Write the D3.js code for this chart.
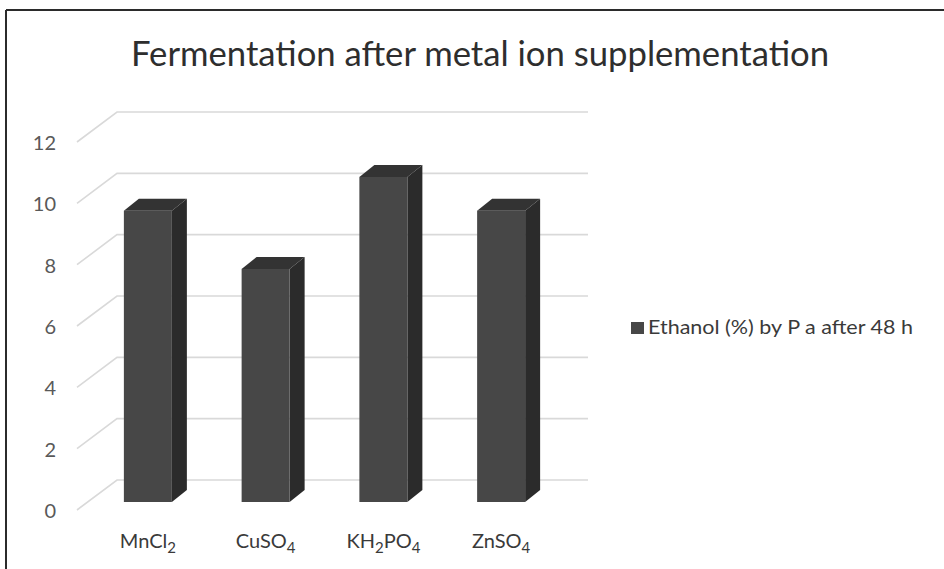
<!DOCTYPE html>
<html>
<head>
<meta charset="utf-8">
<script src="https://cdn.jsdelivr.net/npm/d3@7/dist/d3.min.js"></script>
<style>
  html, body { margin: 0; padding: 0; background: #fff; }
  svg { display: block; }
  text { font-family: Lato, "Open Sans", sans-serif; }
</style>
</head>
<body>
<svg id="chart" width="944" height="569"></svg>
<script>
// Categories (supplemented salts) with subscript parts
const categories = ["MnCl2", "CuSO4", "KH2PO4", "ZnSO4"];
const categoryParts = [
  [["MnCl", false], ["2", true]],
  [["CuSO", false], ["4", true]],
  [["KH", false], ["2", true], ["PO", false], ["4", true]],
  [["ZnSO", false], ["4", true]]
];
// Ethanol (%) after 48 h
const ethanol = [9.5, 7.6, 10.6, 9.5];
const yTicks = [0, 2, 4, 6, 8, 10, 12];
const seriesName = "Ethanol (%) by P a after 48 h";
const chartTitle = "Fermentation after metal ion supplementation";

const svg = d3.select("#chart");

// Oblique 3D geometry: back wall, floor depth and bar depth
const wall = { x0: 117, x1: 588 };
const floorDepth = { dx: -40, dy: 30 };   // back wall -> front edge
const barFrontOffset = 22;                // bar front face below wall line
const barDepth = { dx: 15, dy: -12 };
const barWidth = 48;

const yWall = d3.scaleLinear().domain([0, 12]).range([480, 112]);
const yBar = v => yWall(v) + barFrontOffset;
const x = d3.scalePoint().domain(categories).range([89, 560]).padding(0.5);

// Frame lines (top and left)
svg.append("line").attr("x1", 6).attr("x2", 944).attr("y1", 10).attr("y2", 10)
  .attr("stroke", "#2b2b2b").attr("stroke-width", 2);
svg.append("line").attr("x1", 6).attr("x2", 6).attr("y1", 10).attr("y2", 569)
  .attr("stroke", "#2b2b2b").attr("stroke-width", 2);

// Title
svg.append("text")
  .attr("x", 480).attr("y", 66)
  .attr("text-anchor", "middle")
  .attr("font-size", 34)
  .attr("fill", "#2e2e2e")
  .attr("textLength", 698)
  .attr("lengthAdjust", "spacingAndGlyphs")
  .text(chartTitle);

// Gridlines: floor diagonal + back wall horizontal
const grid = svg.append("g").attr("fill", "none").attr("stroke", "#d9d9d9").attr("stroke-width", 1.6);
yTicks.forEach(t => {
  const yb = yWall(t);
  grid.append("path")
    .attr("d", `M${wall.x0 + floorDepth.dx},${yb + floorDepth.dy}L${wall.x0},${yb}L${wall.x1},${yb}`);
});

// Tick labels
svg.append("g").selectAll("text").data(yTicks).join("text")
  .attr("x", 56)
  .attr("y", d => yWall(d) + floorDepth.dy + 3)
  .attr("text-anchor", "end")
  .attr("dominant-baseline", "middle")
  .attr("font-size", 20)
  .attr("fill", "#595959")
  .text(d => d);

// Bars (side, top, front faces)
const bars = svg.append("g").selectAll("g").data(categories.map((c, i) => ({ c, v: ethanol[i] }))).join("g");
bars.each(function(d) {
  const g = d3.select(this);
  const xl = x(d.c) - barWidth / 2, xr = x(d.c) + barWidth / 2;
  const yt = yBar(d.v), yb = yBar(0);
  const { dx, dy } = barDepth;
  g.append("path").attr("fill", "#2b2b2b")
    .attr("d", `M${xr},${yt}L${xr + dx},${yt + dy}L${xr + dx},${yb + dy}L${xr},${yb}Z`);
  g.append("path").attr("fill", "#333333")
    .attr("d", `M${xl},${yt}L${xl + dx},${yt + dy}L${xr + dx},${yt + dy}L${xr},${yt}Z`);
  g.append("rect").attr("fill", "#474747")
    .attr("x", xl).attr("y", yt).attr("width", barWidth).attr("height", yb - yt);
});

// Category labels with subscripts
const xl = svg.append("g").selectAll("text").data(categories).join("text")
  .attr("x", d => x(d))
  .attr("y", 548)
  .attr("text-anchor", "middle")
  .attr("font-size", 20)
  .attr("fill", "#3a3a3a");
xl.each(function(d, i) {
  const t = d3.select(this);
  categoryParts[i].forEach(([s, sub]) => {
    const ts = t.append("tspan").text(s);
    if (sub) ts.attr("font-size", 15).attr("dy", 5);
    else ts.attr("dy", t.selectAll("tspan").size() > 1 ? -5 : 0);
  });
});

// Legend
const legend = svg.append("g");
legend.append("rect").attr("x", 631).attr("y", 322).attr("width", 13).attr("height", 12).attr("fill", "#474747");
legend.append("text")
  .attr("x", 648).attr("y", 334)
  .attr("font-size", 20)
  .attr("fill", "#3a3a3a")
  .attr("textLength", 265)
  .attr("lengthAdjust", "spacingAndGlyphs")
  .text(seriesName);
</script>
</body>
</html>
